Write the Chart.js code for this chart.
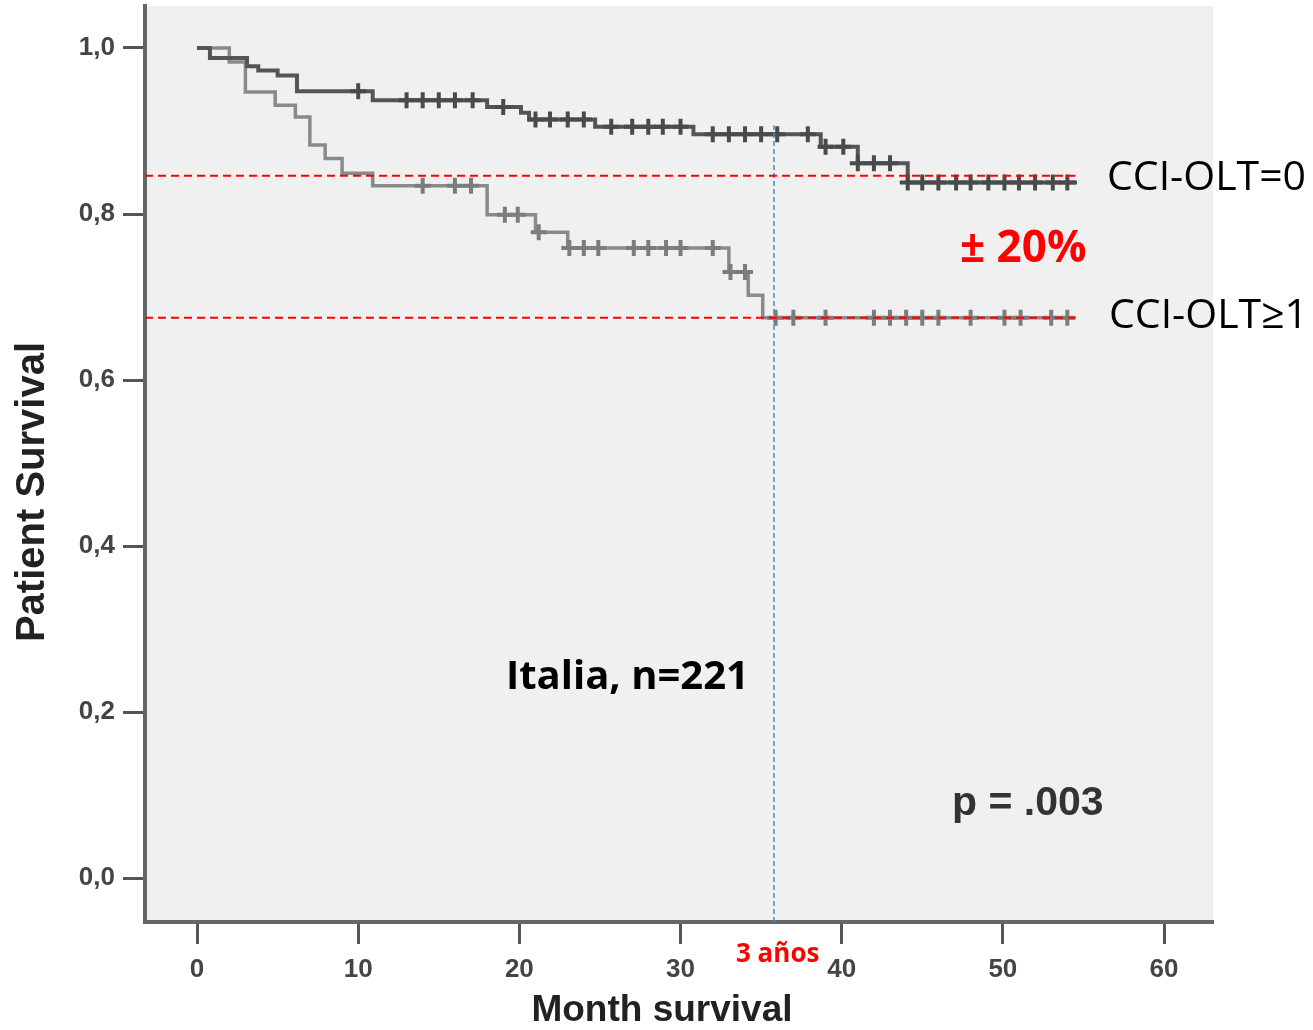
<!doctype html>
<html lang="es">
<head>
<meta charset="utf-8">
<title>Patient Survival</title>
<script src="https://cdn.jsdelivr.net/npm/chart.js@4.4.0/dist/chart.umd.min.js"></script>
<style>
  html, body { margin: 0; padding: 0; background: #fff; }
  #wrap { width: 1313px; height: 1030px; }
</style>
</head>
<body>
<div id="wrap"><canvas id="km"></canvas></div>

<script>
// CCI-OLT=0 : step times (months) and survival after each step
var time0 = [0, 0.8, 3.1, 3.8, 5.0, 6.2, 10.9, 18.0, 20.1, 20.6, 24.7, 30.8, 38.7, 41.0, 44.1];
var surv0 = [1.0, 0.988, 0.978, 0.973, 0.967, 0.948, 0.937, 0.929, 0.922, 0.914, 0.905, 0.896, 0.881, 0.861, 0.838];
var censor0 = [10.0, 13.0, 14.0, 15.0, 16.0, 17.1, 19.0, 21.0, 21.9, 23.0, 24.0, 25.7, 27.0, 28.0, 28.9, 30.0,
               32.0, 33.0, 34.0, 35.0, 36.0, 37.9, 39.0, 40.1, 41.0, 42.0, 43.0, 44.1, 45.0, 46.0, 47.1,
               48.0, 49.1, 50.1, 51.0, 52.0, 53.1, 54.0];
var end0 = 54.6;

// CCI-OLT>=1
var time1 = [0, 2.0, 3.0, 4.85, 6.1, 7.0, 7.95, 9.0, 10.9, 18.0, 21.0, 23.0, 33.0, 34.2, 35.1];
var surv1 = [1.0, 0.983, 0.947, 0.931, 0.917, 0.883, 0.867, 0.849, 0.834, 0.799, 0.778, 0.759, 0.730, 0.702, 0.675];
var censor1 = [14.0, 16.0, 17.0, 19.1, 19.9, 21.2, 23.1, 24.0, 24.9, 27.1, 28.0, 29.1, 30.0, 32.0, 33.1, 34.0,
               35.9, 37.0, 39.0, 42.0, 43.0, 44.0, 45.0, 46.0, 48.0, 50.1, 51.1, 53.0, 54.0];
var end1 = 54.5;

var xTicks = [0, 10, 20, 30, 40, 50, 60];
var yTicks = [0, 0.2, 0.4, 0.6, 0.8, 1.0];
var yTickLabels = ['0,0', '0,2', '0,4', '0,6', '0,8', '1,0'];

var refLevels = [0.846, 0.675];   // red dashed lines
var refEnd = 54.5;
var threeYears = 35.8;            // blue dotted line
var threeYearsTop = 0.907;

var xMin = -3.23, xMax = 63.04, yMin = -0.053, yMax = 1.0506;

function stepPoints(t, s, end) {
  var pts = [];
  for (var i = 0; i < t.length; i++) pts.push({x: t[i], y: s[i]});
  pts.push({x: end, y: s[s.length - 1]});
  return pts;
}
function survAt(t, s, x) {
  var v = s[0];
  for (var i = 0; i < t.length; i++) if (t[i] <= x) v = s[i];
  return v;
}
function censorPoints(c, t, s) {
  return c.map(function (x) { return {x: x, y: survAt(t, s, x)}; });
}

var datasets = [];
refLevels.forEach(function (lv) {
  datasets.push({type: 'line', data: [{x: xMin, y: lv}, {x: refEnd, y: lv}],
    borderColor: '#ff0000', borderWidth: 2, borderDash: [8, 5], pointRadius: 0, order: 0});
});
datasets.push({type: 'line', data: [{x: threeYears, y: yMin}, {x: threeYears, y: threeYearsTop}],
  borderColor: '#4f86c6', borderWidth: 1.5, borderDash: [5, 3], pointRadius: 0, order: 0});

datasets.push({type: 'scatter', data: censorPoints(censor0, time0, surv0), pointStyle: 'cross',
  pointRadius: 8, borderWidth: 4, borderColor: '#4a4a4a', order: 1});
datasets.push({type: 'scatter', data: censorPoints(censor1, time1, surv1), pointStyle: 'cross',
  pointRadius: 8, borderWidth: 4, borderColor: '#7c7c7c', order: 1});
datasets.push({type: 'line', data: stepPoints(time0, surv0, end0), stepped: true,
  borderColor: '#555555', borderWidth: 4, pointRadius: 0, order: 2});
datasets.push({type: 'line', data: stepPoints(time1, surv1, end1), stepped: true,
  borderColor: '#8a8a8a', borderWidth: 3.5, pointRadius: 0, order: 2});

var decor = {
  id: 'decor',
  beforeDraw: function (chart) {
    var a = chart.chartArea, c = chart.ctx;
    c.save();
    c.fillStyle = '#f0f0f0';
    c.fillRect(a.left, a.top, a.right - a.left, a.bottom - a.top);
    c.restore();
  },
  afterDraw: function (chart) {
    var c = chart.ctx;
    c.save();
    c.textBaseline = 'middle';
    c.textAlign = 'left';
    c.fillStyle = '#000';
    c.font = '41px "Open Sans"';
    c.fillText('CCI-OLT=0', 1107, 178);
    c.fillText('CCI-OLT≥1', 1109, 316);
    c.fillStyle = '#ff0000';
    c.font = 'bold 44px "Open Sans"';
    c.fillText('± 20%', 960, 249);
    c.font = 'bold 26px "Open Sans"';
    c.fillText('3 años', 736, 955);
    c.fillStyle = '#000';
    c.font = 'bold 40px "Open Sans"';
    c.fillText('Italia, n=221', 506, 678);
    c.fillStyle = '#333';
    c.font = 'bold 41px "Liberation Sans"';
    c.fillText('p = .003', 952, 804);

    c.fillStyle = '#222';
    c.textAlign = 'center';
    c.font = 'bold 37px "Liberation Sans"';
    c.fillText('Month survival', 662, 1011);
    c.translate(33, 492);
    c.rotate(-Math.PI / 2);
    c.font = 'bold 40px "Liberation Sans"';
    c.fillText('Patient Survival', 0, 0);
    c.restore();
  }
};

new Chart(document.getElementById('km'), {
  data: {datasets: datasets},
  options: {
    responsive: true,
    maintainAspectRatio: false,
    animation: false,
    layout: {autoPadding: false, padding: {left: 0, top: 6, right: 100, bottom: 0}},
    plugins: {legend: {display: false}, tooltip: {enabled: false}},
    scales: {
      x: {
        type: 'linear', min: xMin, max: xMax,
        afterFit: function (s) { s.height = 108; s.paddingLeft = 0; s.paddingRight = 0; },
        afterBuildTicks: function (s) { s.ticks = xTicks.map(function (v) { return {value: v}; }); },
        grid: {drawOnChartArea: false, tickLength: 22, tickWidth: 3, tickColor: '#555'},
        border: {color: '#666', width: 4},
        ticks: {padding: 10, color: '#444', font: {family: 'Liberation Sans', size: 26, weight: 'bold'}}
      },
      y: {
        type: 'linear', min: yMin, max: yMax,
        afterFit: function (s) { s.width = 145; s.paddingTop = 0; s.paddingBottom = 0; },
        afterBuildTicks: function (s) { s.ticks = yTicks.map(function (v) { return {value: v}; }); },
        grid: {drawOnChartArea: false, tickLength: 22, tickWidth: 3, tickColor: '#555'},
        border: {color: '#666', width: 4},
        ticks: {padding: 8, color: '#444', font: {family: 'Liberation Sans', size: 26, weight: 'bold'},
          callback: function (v) {
            var i = yTicks.findIndex(function (t) { return Math.abs(t - v) < 1e-6; });
            return i >= 0 ? yTickLabels[i] : '';
          }}
      }
    }
  },
  plugins: [decor]
});
</script>
</body>
</html>
